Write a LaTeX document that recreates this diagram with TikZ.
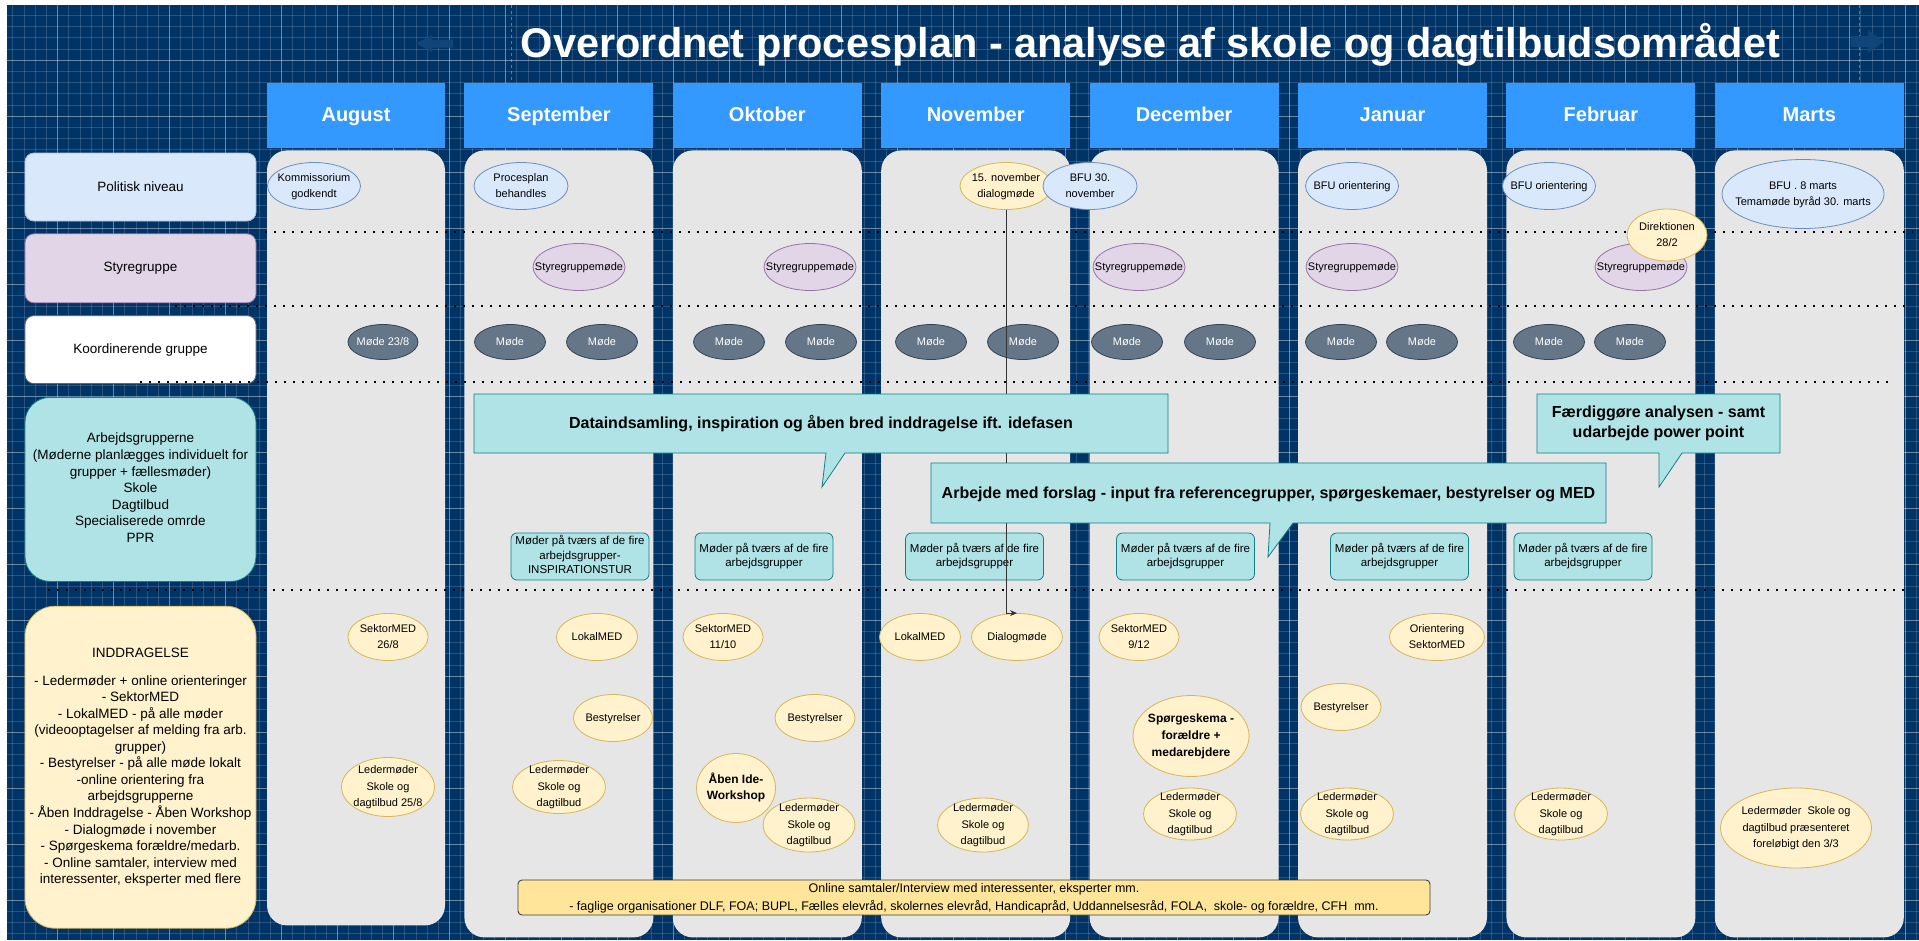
\documentclass[tikz,border=0pt]{standalone}
\usepackage{fontspec}
\setmainfont{Liberation Sans}
\usepackage{tikz}
\usetikzlibrary{positioning}
\usetikzlibrary{shapes.geometric,arrows.meta}

\definecolor{navy}{HTML}{003366}
\definecolor{hdrblue}{HTML}{3399FF}
\definecolor{lanegrey}{HTML}{E6E6E6}
\definecolor{polfill}{HTML}{DAE8FC}
\definecolor{poldraw}{HTML}{6C8EBF}
\definecolor{styfill}{HTML}{E1D5E7}
\definecolor{stydraw}{HTML}{9673A6}
\definecolor{mfill}{HTML}{647687}
\definecolor{mdraw}{HTML}{314354}
\definecolor{yelfill}{HTML}{FFF2CC}
\definecolor{yeldraw}{HTML}{D6B656}
\definecolor{tealfill}{HTML}{B0E3E6}
\definecolor{tealdraw}{HTML}{0E8088}
\definecolor{onlfill}{HTML}{FFE599}
\definecolor{faintblue}{HTML}{0F4579}

\newcommand{\fsz}[2]{\fontsize{#1}{#2}\selectfont}
\newsavebox\ebox
\newcommand{\etxt}[1]{\sbox\ebox{\begin{tabular}{@{}c@{}}#1\end{tabular}}%
  \makebox[0pt]{\raisebox{\dimexpr 0.5\dp\ebox-0.5\ht\ebox\relax}[0pt][0pt]{\usebox\ebox}}}

\begin{document}
\begin{tikzpicture}[x=1pt,y=-1pt,
  gridln/.style={white, opacity=0.16, line width=0.6pt},
  gridmaj/.style={white, opacity=0.3, line width=0.9pt},
  month/.style={fill=hdrblue, text=white, font={\fsz{20}{24}\bfseries}, text height=15pt, text depth=4pt, minimum width=189pt, minimum height=65pt, inner sep=0pt},
  lane/.style={fill=lanegrey, rounded corners=20pt, minimum width=189pt, minimum height=787pt, inner sep=0pt},
  rowlbl/.style={rounded corners=9pt, minimum width=231pt, inner sep=0pt, line width=0.8pt, font={\fsz{13.5}{16.6}}},
  sepline/.style={black, line width=2pt, dash pattern=on 2pt off 7pt},
  sz/.style 2 args={minimum width=#1pt, minimum height=#2pt},
  ev/.style={ellipse, draw, inner sep=0pt, line width=0.8pt, font={\fsz{11}{16.5}}},
  pol/.style={ev, fill=polfill, draw=poldraw},
  sty/.style={ev, fill=styfill, draw=stydraw},
  yel/.style={ev, fill=yelfill, draw=yeldraw},
  moede/.style={ev, fill=mfill, draw=mdraw, text=white, sz={71}{35}},
  mbox/.style={rounded corners=6pt, fill=tealfill, draw=tealdraw, line width=0.8pt, inner sep=0pt, minimum width=138pt, minimum height=47pt, font={\fsz{11.5}{14.5}}},
  callshape/.style={fill=tealfill, draw=tealdraw, line width=0.8pt},
  calltxt/.style={inner sep=0pt, font={\fsz{16}{19.3}\bfseries}},
  conn/.style={-{Stealth[length=7pt,width=6pt]}, line width=0.8pt, black!80}
]
\useasboundingbox (0,0) rectangle (1919,940);
\fill[white] (0,0) rectangle (1919,940);
\fill[navy] (7,5) rectangle (1919,940);
\foreach \gx in {12.7,23.9,...,1919} \draw[gridln] (\gx,5) -- (\gx,940);
\foreach \gy in {15.2,26.4,...,940} \draw[gridln] (7,\gy) -- (1919,\gy);
\foreach \gx in {57.5,113.5,...,1919} \draw[gridmaj] (\gx,5) -- (\gx,940);
\foreach \gy in {60,116,...,940} \draw[gridmaj] (7,\gy) -- (1919,\gy);

\draw[white, opacity=0.35, dash pattern=on 3pt off 3pt] (511,5) -- (511,80);
\draw[white, opacity=0.35, dash pattern=on 3pt off 3pt] (1859,5) -- (1859,80);
\fill[faintblue] (416,43.5) -- (432,35) -- (432,39.5) -- (453,39.5) -- (453,47.5) -- (432,47.5) -- (432,52) -- cycle;
\fill[faintblue] (1884,41.5) -- (1868,30) -- (1868,36) -- (1851,36) -- (1851,47) -- (1868,47) -- (1868,53) -- cycle;

\node[text=white, font={\fsz{41.5}{48}\bfseries}] (title) at (1150.5,45) {Overordnet procesplan - analyse af skole og dagtilbudsområdet};

\node[month, minimum width=178pt] (hdraug) at (356,115.5) {August};
\node[lane, minimum width=178pt, minimum height=775pt, below=2pt of hdraug] (laneaug) {};
\foreach \mn/\mt [remember=\mn as \prev (initially aug)] in {sep/September,okt/Oktober,nov/November,dec/December,jan/Januar,feb/Februar,mar/Marts}{
  \node[month, right=19pt of hdr\prev] (hdr\mn) {\mt};
  \node[lane, below=2pt of hdr\mn] (lane\mn) {};
}

\node[rowlbl, fill=polfill, draw=poldraw!60, minimum height=68pt] (politisk) at (140.5,187) {Politisk niveau};
\node[rowlbl, fill=styfill, draw=stydraw, minimum height=69pt, below=12pt of politisk] (styregr) {Styregruppe};
\node[rowlbl, fill=white, draw=black!60, minimum height=68pt, below=12pt of styregr] (koord) {Koordinerende gruppe};
\node[rowlbl, fill=tealfill, draw=tealdraw, rounded corners=25pt, minimum height=184pt, below=13pt of koord] (arbgr) {\etxt{Arbejdsgrupperne\\(Møderne planlægges individuelt for\\grupper + fællesmøder)\\Skole\\Dagtilbud\\Specialiserede omrde\\PPR}};
\node[rowlbl, fill=yelfill, draw=yeldraw, rounded corners=30pt, minimum height=322pt, below=24pt of arbgr, font={\fsz{13.5}{16.5}}] (inddr) {\etxt{INDDRAGELSE\\[11.5pt]- Ledermøder + online orienteringer\\- SektorMED\\- LokalMED - på alle møder\\(videooptagelser af melding fra arb.\\grupper)\\- Bestyrelser - på alle møde lokalt\\-online orientering fra\\arbejdsgrupperne\\- Åben Inddragelse - Åben Workshop\\- Dialogmøde i november\\- Spørgeskema forældre/medarb.\\- Online samtaler, interview med\\interessenter, eksperter med flere}};

\draw[sepline] (265,232) -- (1913,232);
\draw[sepline] (175,306) -- (1905,306);
\draw[sepline] (140,382) -- (1888,382);
\draw[sepline] (48,590) -- (1905,590);

\node[pol, sz={93}{47}] (kommis) at (314,186) {\etxt{Kommissorium\\godkendt}};
\node[pol, sz={94}{47}] (procpl) at (521,186) {\etxt{Procesplan\\behandles}};
\node[yel, sz={92}{47}] (nov15) at (1006,186) {\etxt{15. november\\dialogmøde}};
\node[pol, sz={94}{47}] (bfunov) at (1090,186) {\etxt{BFU 30.\\november}};
\node[pol, sz={93}{47}] (bfujan) at (1352,186) {\etxt{BFU orientering}};
\node[pol, sz={93}{47}] (bfufeb) at (1549,186) {\etxt{BFU orientering}};
\node[pol, sz={162}{69}] (bfumar) at (1803,194) {\etxt{BFU . 8 marts\\Temamøde byråd 30. marts}};

\foreach \sx/\sn in {579/sep,810/okt,1139/dec,1352/jan,1641/feb}
  \node[sty, sz={92}{47}] (styr\sn) at (\sx,267) {\etxt{Styregruppemøde}};
\node[yel, sz={80}{52}] (direkt) at (1667,235) {\etxt{Direktionen\\28/2}};

\node[moede, sz={70}{35}] (moede0) at (383,342) {\etxt{Møde 23/8}};
\foreach \mx [count=\k] in {510,602,729,821,931,1023,1127,1220,1341,1422,1549,1630}
  \node[moede] (moede\k) at (\mx,342) {\etxt{Møde}};

\node[mbox] (mbsep) at (580,556.5) {\etxt{Møder på tværs af de fire\\arbejdsgrupper-\\INSPIRATIONSTUR}};
\foreach \bx/\bn in {764/okt,974.5/nov,1185.5/dec,1399.5/jan,1583/feb}
  \node[mbox] (mb\bn) at (\bx,556.5) {\etxt{Møder på tværs af de fire\\arbejdsgrupper}};

\node[yel, sz={80}{47}] (sek268) at (388,637) {\etxt{SektorMED\\26/8}};
\node[yel, sz={93}{59}] (ledaug) at (388,787) {\etxt{Ledermøder\\Skole og\\dagtilbud 25/8}};
\node[yel, sz={81}{47}] (loksep) at (597,637) {\etxt{LokalMED}};
\node[yel, sz={79}{47}] (bestsep) at (613,718) {\etxt{Bestyrelser}};
\node[yel, sz={93}{53}] (ledsep) at (559,787) {\etxt{Ledermøder\\Skole og\\dagtilbud}};
\node[yel, sz={80}{47}] (sek1110) at (723,637) {\etxt{SektorMED\\11/10}};
\node[yel, sz={80}{47}] (bestokt) at (815,718) {\etxt{Bestyrelser}};
\node[yel, sz={79}{69}, font={\fsz{12}{16.7}\bfseries}] (aaben) at (736,788) {\etxt{Åben Ide-\\Workshop}};
\node[yel, sz={92}{54}] (ledokt) at (809,825) {\etxt{Ledermøder\\Skole og\\dagtilbud}};
\node[yel, sz={81}{47}] (loknov) at (920,637) {\etxt{LokalMED}};
\node[yel, sz={91}{47}] (dialog) at (1017,637) {\etxt{Dialogmøde}};
\node[yel, sz={91}{54}] (lednov) at (983,825) {\etxt{Ledermøder\\Skole og\\dagtilbud}};
\node[yel, sz={80}{47}] (sek912) at (1139,637) {\etxt{SektorMED\\9/12}};
\node[yel, sz={116}{81}, font={\fsz{12}{17}\bfseries}] (spoerg) at (1191,736) {\etxt{Spørgeskema -\\forældre +\\medarebjdere}};
\node[yel, sz={93}{52}] (leddec) at (1190,814) {\etxt{Ledermøder\\Skole og\\dagtilbud}};
\node[yel, sz={95}{47}] (orient) at (1437,637) {\etxt{Orientering\\SektorMED}};
\node[yel, sz={80}{47}] (bestjan) at (1341,707) {\etxt{Bestyrelser}};
\node[yel, sz={93}{52}] (ledjan) at (1347,814) {\etxt{Ledermøder\\Skole og\\dagtilbud}};
\node[yel, sz={93}{52}] (ledfeb) at (1561,814) {\etxt{Ledermøder\\Skole og\\dagtilbud}};
\node[yel, sz={151}{80}] (ledmar) at (1796,828) {\etxt{Ledermøder\ \ Skole og\\dagtilbud præsenteret\\foreløbigt den 3/3}};

\draw[conn] (nov15.south) |- (dialog.north);

\draw[callshape] (474,394) -- (1168,394) -- (1168,453) -- (845,453) -- (822,487) -- (826,453) -- (474,453) -- cycle;
\node[calltxt] (idefase) at (821,424) {Dataindsamling, inspiration og åben bred inddragelse ift. idefasen};
\draw[callshape] (931,463) -- (1606,463) -- (1606,523) -- (1293,523) -- (1268,557) -- (1270,523) -- (931,523) -- cycle;
\node[calltxt] (forslag) at (1268.5,494) {Arbejde med forslag - input fra referencegrupper, spørgeskemaer, bestyrelser og MED};
\draw[callshape] (1537,394) -- (1780,394) -- (1780,453) -- (1682,453) -- (1659,487) -- (1659,453) -- (1537,453) -- cycle;
\node[calltxt] (faerdig) at (1658.5,423.5) {\etxt{Færdiggøre analysen - samt\\udarbejde power point}};

\node[fill=onlfill, draw=black!75, line width=0.9pt, rounded corners=4pt, inner sep=0pt, minimum width=912pt, minimum height=35pt, font={\fsz{12.5}{18}}] (online) at (974,897.5) {\etxt{Online samtaler/Interview med interessenter, eksperter mm.\\- faglige organisationer DLF, FOA; BUPL, Fælles elevråd, skolernes elevråd, Handicapråd, Uddannelsesråd, FOLA,\ \ skole- og forældre, CFH\ \ mm.}};
\end{tikzpicture}
\end{document}
